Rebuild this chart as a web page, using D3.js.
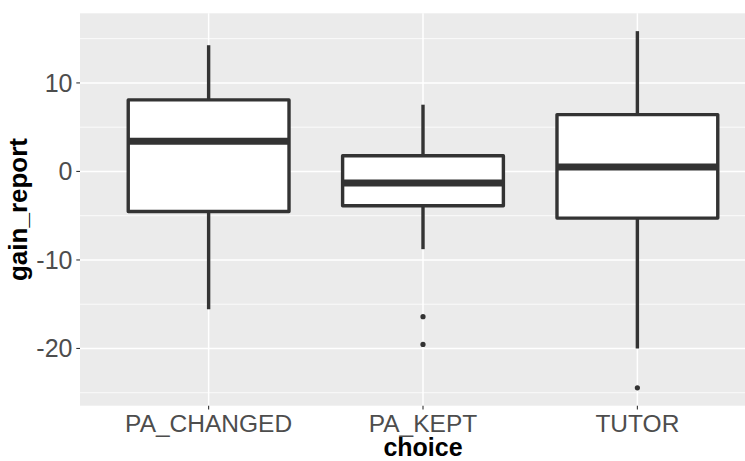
<!DOCTYPE html>
<html>
<head>
<meta charset="utf-8">
<script src="https://cdn.jsdelivr.net/npm/d3@7/dist/d3.min.js"></script>
<style>
  html, body { margin: 0; padding: 0; background: #fff; }
  svg { display: block; }
  text { font-family: "Liberation Sans", Arial, Helvetica, sans-serif; }
</style>
</head>
<body>
<svg id="chart" width="745" height="461"></svg>
<script>
// ---- data ----
const categories  = ["PA_CHANGED", "PA_KEPT", "TUTOR"];
const whiskerLow  = [-15.57, -8.78, -19.99];
const q1          = [-4.53, -3.88, -5.27];
const median      = [3.40, -1.31, 0.50];
const q3          = [8.08, 1.78, 6.42];
const whiskerHigh = [14.26, 7.54, 15.85];
const outlierChoice = ["PA_KEPT", "PA_KEPT", "TUTOR"];
const outlierValue  = [-16.41, -19.54, -24.45];
const yTicks      = [-20, -10, 0, 10];
const yMinorTicks = [-25, -15, -5, 5, 15];

// ---- layout ----
const panel = { left: 80, top: 13.3, right: 766, bottom: 405.7 };

const svg = d3.select("#chart");

const boxes = categories.map((c, i) => ({
  choice: c, lo: whiskerLow[i], q1: q1[i], med: median[i], q3: q3[i], hi: whiskerHigh[i]
}));
const outliers = outlierChoice.map((c, i) => ({ choice: c, value: outlierValue[i] }));

const allVals = boxes.flatMap(b => [b.lo, b.hi]).concat(outlierValue);
const vmin = d3.min(allVals), vmax = d3.max(allVals);
const pad = (vmax - vmin) * 0.05;

const y = d3.scaleLinear().domain([vmin - pad, vmax + pad]).range([panel.bottom, panel.top]);
const x = d3.scalePoint().domain(categories).range([panel.left, panel.right]).padding(0.6);
const step = x.step();
const boxW = step * 0.75;

// panel background
svg.append("rect")
  .attr("x", panel.left).attr("y", panel.top)
  .attr("width", panel.right - panel.left).attr("height", panel.bottom - panel.top)
  .attr("fill", "#EBEBEB");

// minor grid
svg.append("g").selectAll("line").data(yMinorTicks).join("line")
  .attr("x1", panel.left).attr("x2", panel.right)
  .attr("y1", d => y(d)).attr("y2", d => y(d))
  .attr("stroke", "#fff").attr("stroke-width", 0.8);

// major grid
svg.append("g").selectAll("line").data(yTicks).join("line")
  .attr("x1", panel.left).attr("x2", panel.right)
  .attr("y1", d => y(d)).attr("y2", d => y(d))
  .attr("stroke", "#fff").attr("stroke-width", 1.5);
svg.append("g").selectAll("line").data(categories).join("line")
  .attr("x1", d => x(d)).attr("x2", d => x(d))
  .attr("y1", panel.top).attr("y2", panel.bottom)
  .attr("stroke", "#fff").attr("stroke-width", 1.5);

const ink = "#333333";
const g = svg.append("g");

// whiskers
g.selectAll("line.wh").data(boxes).join("line").attr("class", "wh")
  .attr("x1", d => x(d.choice)).attr("x2", d => x(d.choice))
  .attr("y1", d => y(d.hi)).attr("y2", d => y(d.q3))
  .attr("stroke", ink).attr("stroke-width", 3.4);
g.selectAll("line.wl").data(boxes).join("line").attr("class", "wl")
  .attr("x1", d => x(d.choice)).attr("x2", d => x(d.choice))
  .attr("y1", d => y(d.q1)).attr("y2", d => y(d.lo))
  .attr("stroke", ink).attr("stroke-width", 3.4);

// boxes
g.selectAll("rect.box").data(boxes).join("rect").attr("class", "box")
  .attr("x", d => x(d.choice) - boxW / 2).attr("width", boxW)
  .attr("y", d => y(d.q3)).attr("height", d => y(d.q1) - y(d.q3))
  .attr("fill", "#fff").attr("stroke", ink).attr("stroke-width", 3.4)
  .attr("stroke-linejoin", "round");

// medians
g.selectAll("line.med").data(boxes).join("line").attr("class", "med")
  .attr("x1", d => x(d.choice) - boxW / 2).attr("x2", d => x(d.choice) + boxW / 2)
  .attr("y1", d => y(d.med)).attr("y2", d => y(d.med))
  .attr("stroke", ink).attr("stroke-width", 7);

// outliers
g.selectAll("circle").data(outliers).join("circle")
  .attr("cx", d => x(d.choice)).attr("cy", d => y(d.value)).attr("r", 2.6)
  .attr("fill", ink);

// y axis ticks + labels
const ya = svg.append("g");
ya.selectAll("line").data(yTicks).join("line")
  .attr("x1", panel.left - 3.7).attr("x2", panel.left)
  .attr("y1", d => y(d)).attr("y2", d => y(d))
  .attr("stroke", ink).attr("stroke-width", 1.1);
ya.selectAll("text").data(yTicks).join("text")
  .attr("x", panel.left - 7.5).attr("y", d => y(d))
  .attr("dy", "0.36em").attr("text-anchor", "end")
  .attr("font-size", 25).attr("fill", "#4D4D4D")
  .text(d => String(d));

// x axis ticks + labels
const xa = svg.append("g");
xa.selectAll("line").data(categories).join("line")
  .attr("x1", d => x(d)).attr("x2", d => x(d))
  .attr("y1", panel.bottom).attr("y2", panel.bottom + 3.7)
  .attr("stroke", ink).attr("stroke-width", 1.1);
xa.selectAll("text").data(categories).join("text")
  .attr("x", d => x(d)).attr("y", 432)
  .attr("text-anchor", "middle")
  .attr("font-size", 24.5).attr("fill", "#4D4D4D")
  .text(d => d);

// axis titles
svg.append("text")
  .attr("x", (panel.left + panel.right) / 2).attr("y", 456)
  .attr("text-anchor", "middle").attr("font-size", 25).attr("font-weight", "bold")
  .attr("fill", "#000").text("choice");
svg.append("text")
  .attr("transform", `translate(27,${(panel.top + panel.bottom) / 2}) rotate(-90)`)
  .attr("text-anchor", "middle").attr("font-size", 26).attr("font-weight", "bold")
  .attr("fill", "#000").text("gain_report");
</script>
</body>
</html>
